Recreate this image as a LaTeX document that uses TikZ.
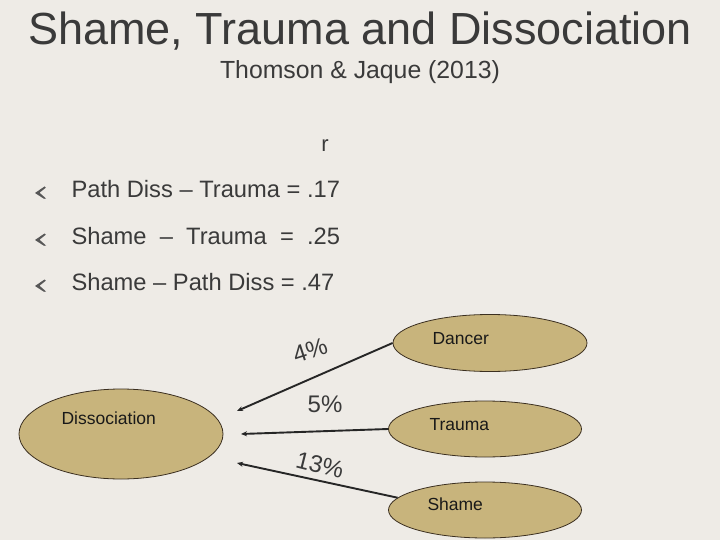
\documentclass[tikz,border=0pt]{standalone}
\usepackage{fontspec}
\setmainfont{Liberation Sans}
\usetikzlibrary{shapes.geometric,arrows.meta,positioning}

\definecolor{slidebg}{HTML}{EEEBE6}
\definecolor{inkgray}{HTML}{3A3A3A}
\definecolor{khaki}{HTML}{C8B47C}
\definecolor{rim}{HTML}{3B2F20}

\tikzset{
  oval/.style={ellipse, draw=rim, fill=khaki, line width=0.8pt, inner sep=0pt},
  ovaltext/.style={text=black!90, anchor=base west, font=\fontsize{17.5}{20}\selectfont},
  itemtext/.style={text=inkgray, anchor=base west, font=\fontsize{23.7}{26}\selectfont},
  pct/.style={text=inkgray, font=\fontsize{24}{28}\selectfont},
  link/.style={-{Stealth[length=6pt,width=5pt]}, line width=1.9pt, draw=black!85},
}

\begin{document}
\begin{tikzpicture}[x=1pt,y=-1pt]
\fill[slidebg] (0,0) rectangle (720,540);
\useasboundingbox (0,0) rectangle (720,540);

% heading
\node[text=inkgray, anchor=base, font=\fontsize{45}{50}\selectfont] (title) at (360,45) {Shame, Trauma and Dissociation};
\node[text=inkgray, anchor=base, font=\fontsize{24.8}{28}\selectfont] (cite) at (360,79) {Thomson \& Jaque (2013)};
\node[text=inkgray, anchor=base, font=\fontsize{22}{26}\selectfont] (r) at (325,152) {r};

% correlations
\foreach \yb in {197,244,290}
  \fill[inkgray!85] (35,\yb-4) -- (44.5,\yb-10.5) -- (45.8,\yb-9.3) -- (39.5,\yb-4.3) -- (46,\yb+1.5) -- (44,\yb+1.8) -- cycle;
\node[itemtext] (corrA) at (68,197) {Path Diss -- Trauma = .17};
\node[itemtext] (corrB) at (68,244) {Shame~~--~~Trauma~~=~~.25};
\node[itemtext] (corrC) at (68,290) {Shame -- Path Diss = .47};

% model
\node[oval, minimum width=204pt, minimum height=90pt] (diss) at (121,434) {};
\node[oval, minimum width=194pt, minimum height=57pt] (dancer) at (490,343) {};
\node[oval, minimum width=193pt, minimum height=56pt] (trauma) at (485,429) {};
\node[oval, minimum width=193pt, minimum height=56pt] (shame) at (485,510) {};

\node[ovaltext] (disslbl) at ([xshift=-63pt,yshift=10pt]diss.center) {Dissociation};
\node[ovaltext] (dancerlbl) at ([xshift=-61pt,yshift=-1pt]dancer.center) {Dancer};
\node[ovaltext] (traumalbl) at ([xshift=-59pt,yshift=-1pt]trauma.center) {Trauma};
\node[ovaltext] (shamelbl) at ([xshift=-61pt,yshift=0pt]shame.center) {Shame};

\coordinate (tipA) at (237,411);
\coordinate (tipB) at (241,434);
\coordinate (tipC) at (237,463);
\draw[link] (dancer.west) -- (tipA);
\draw[link] (trauma.west) -- (tipB);
\draw[link] (shame.172) -- (tipC);

\node[pct, rotate=18] (pctA) at (310,350) {4\%};
\node[pct] (pctB) at (325,404) {5\%};
\node[pct, rotate=-14] (pctC) at (320,465) {13\%};
\end{tikzpicture}
\end{document}
